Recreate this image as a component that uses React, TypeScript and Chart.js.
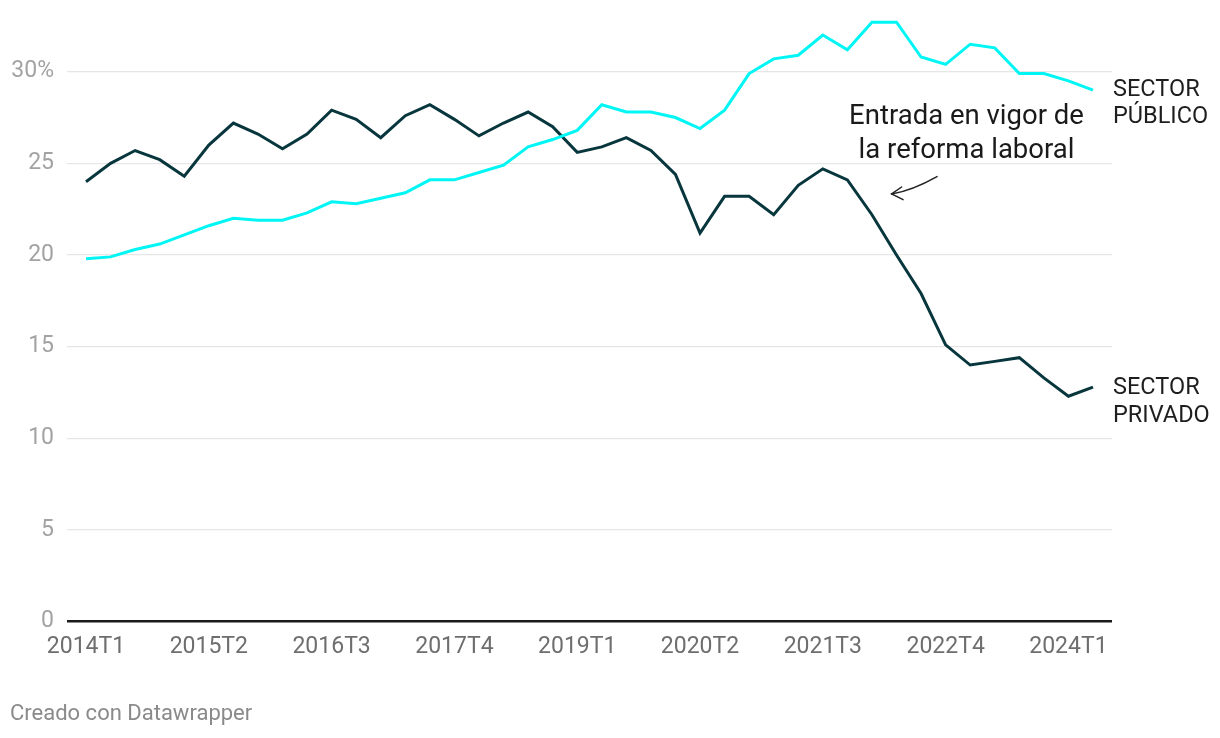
import React, { useEffect, useRef } from "react";
import { Chart, registerables } from "chart.js";

Chart.register(...registerables);

const quarterLabels = [
  "2014T1", "2014T2", "2014T3", "2014T4",
  "2015T1", "2015T2", "2015T3", "2015T4",
  "2016T1", "2016T2", "2016T3", "2016T4",
  "2017T1", "2017T2", "2017T3", "2017T4",
  "2018T1", "2018T2", "2018T3", "2018T4",
  "2019T1", "2019T2", "2019T3", "2019T4",
  "2020T1", "2020T2", "2020T3", "2020T4",
  "2021T1", "2021T2", "2021T3", "2021T4",
  "2022T1", "2022T2", "2022T3", "2022T4",
  "2023T1", "2023T2", "2023T3", "2023T4",
  "2024T1", "2024T2",
];

const sectorPublico = [
  19.8, 19.9, 20.3, 20.6, 21.1, 21.6, 22.0, 21.9, 21.9, 22.3,
  22.9, 22.8, 23.1, 23.4, 24.1, 24.1, 24.5, 24.9, 25.9, 26.3,
  26.8, 28.2, 27.8, 27.8, 27.5, 26.9, 27.9, 29.9, 30.7, 30.9,
  32.0, 31.2, 32.7, 32.7, 30.8, 30.4, 31.5, 31.3, 29.9, 29.9,
  29.5, 29.0,
];

const sectorPrivado = [
  24.0, 25.0, 25.7, 25.2, 24.3, 26.0, 27.2, 26.6, 25.8, 26.6,
  27.9, 27.4, 26.4, 27.6, 28.2, 27.4, 26.5, 27.2, 27.8, 27.0,
  25.6, 25.9, 26.4, 25.7, 24.4, 21.2, 23.2, 23.2, 22.2, 23.8,
  24.7, 24.1, 22.2, 20.0, 17.9, 15.1, 14.0, 14.2, 14.4, 13.3,
  12.3, 12.8,
];

const yTickValues = [0, 5, 10, 15, 20, 25, 30];
const xTickIndexes = [0, 5, 10, 15, 20, 25, 30, 35, 40];

const publicoLabel = ["SECTOR", "PÚBLICO"];
const privadoLabel = ["SECTOR", "PRIVADO"];
const annotationLines = ["Entrada en vigor de", "la reforma laboral"];
const creditText = "Creado con Datawrapper";

const COLOR_PUBLICO = "#00f5f5";
const COLOR_PRIVADO = "#08363d";
const FONT = "Roboto, 'Noto Sans', sans-serif";

const W = 1220;
const H = 738;
const ZERO_Y = 621.7;
const Y_MAX = 33;
const UNIT = 18.333;

const overlayPlugin = {
  id: "overlay",
  afterDatasetsDraw(chart: any) {
    const { ctx, scales, chartArea } = chart;
    const x = scales.x;
    const y = scales.y;
    const last = sectorPublico.length - 1;
    ctx.save();

    // series end labels
    ctx.font = `23.5px ${FONT}`;
    ctx.fillStyle = "#1e1e1e";
    ctx.textAlign = "left";
    ctx.textBaseline = "middle";
    const lx = chartArea.right + 1;
    const yp = y.getPixelForValue(sectorPublico[last]);
    ctx.fillText(publicoLabel[0], lx, yp);
    ctx.fillText(publicoLabel[1], lx, yp + 27.5);
    const yv = y.getPixelForValue(sectorPrivado[last]);
    ctx.fillText(privadoLabel[0], lx, yv + 1);
    ctx.fillText(privadoLabel[1], lx, yv + 29);

    // annotation text
    ctx.font = `27.5px ${FONT}`;
    ctx.fillStyle = "#1a1a1a";
    ctx.textAlign = "center";
    const ax = x.getPixelForValue(35.85);
    const ay = y.getPixelForValue(27.55);
    ctx.fillText(annotationLines[0], ax, ay);
    ctx.fillText(annotationLines[1], ax, ay + 34);

    // arrow
    const sx = x.getPixelForValue(34.65);
    const sy = y.getPixelForValue(24.28);
    const ex = x.getPixelForValue(32.8);
    const ey = y.getPixelForValue(23.33);
    ctx.strokeStyle = "#222";
    ctx.lineWidth = 1.5;
    ctx.lineCap = "round";
    ctx.beginPath();
    ctx.moveTo(sx, sy);
    ctx.quadraticCurveTo(sx - 25, sy + 14, ex, ey);
    ctx.stroke();
    ctx.beginPath();
    ctx.moveTo(ex + 10, ey - 7);
    ctx.lineTo(ex, ey);
    ctx.lineTo(ex + 11.5, ey + 5.7);
    ctx.stroke();

    // credit
    ctx.font = `22px ${FONT}`;
    ctx.fillStyle = "#8a8a8a";
    ctx.textAlign = "left";
    ctx.textBaseline = "middle";
    ctx.fillText(creditText, 10, 714);

    ctx.restore();
  },
};

export default function App() {
  const canvasRef = useRef<HTMLCanvasElement | null>(null);

  useEffect(() => {
    const canvas = canvasRef.current;
    if (!canvas) return;
    const chart = new Chart(canvas, {
      type: "line",
      data: {
        datasets: [
          {
            label: "Sector público",
            data: sectorPublico.map((v, i) => ({ x: i, y: v })),
            borderColor: COLOR_PUBLICO,
            borderWidth: 3,
            pointRadius: 0,
            tension: 0,
            clip: false as any,
          },
          {
            label: "Sector privado",
            data: sectorPrivado.map((v, i) => ({ x: i, y: v })),
            borderColor: COLOR_PRIVADO,
            borderWidth: 3,
            pointRadius: 0,
            tension: 0,
            clip: false as any,
          },
        ],
      },
      options: {
        responsive: false,
        devicePixelRatio: 1,
        animation: false,
        layout: { padding: { left: 0, right: 108, top: ZERO_Y - Y_MAX * UNIT, bottom: 0 } },
        plugins: {
          legend: { display: false },
          tooltip: { enabled: false },
        },
        scales: {
          x: {
            type: "linear",
            min: -0.774,
            max: 41.774,
            grid: { display: false, drawTicks: false },
            border: { display: false },
            afterBuildTicks: (scale: any) => {
              scale.ticks = xTickIndexes.map((v) => ({ value: v }));
            },
            afterFit: (scale: any) => {
              scale.height = H - ZERO_Y;
              scale.paddingLeft = 0;
              scale.paddingRight = 0;
            },
            ticks: {
              autoSkip: false,
              maxRotation: 0,
              padding: 12,
              color: "#6e6e6e",
              font: { family: FONT, size: 23 },
              callback: (v: any) => quarterLabels[Number(v)] ?? "",
            },
          },
          y: {
            type: "linear",
            min: 0,
            max: Y_MAX,
            border: { display: false },
            grid: {
              drawTicks: false,
              color: (c: any) => (c.tick && c.tick.value === 0 ? "#1a1a1a" : "#e6e6e6"),
              lineWidth: (c: any) => (c.tick && c.tick.value === 0 ? 2.5 : 1.3),
            },
            afterBuildTicks: (scale: any) => {
              scale.ticks = yTickValues.map((v) => ({ value: v }));
            },
            afterFit: (scale: any) => {
              scale.width = 67;
              scale.paddingTop = 0;
              scale.paddingBottom = 0;
            },
            ticks: {
              padding: 13,
              color: "#a3a3a3",
              font: { family: FONT, size: 23 },
              callback: (v: any) => (Number(v) === 30 ? "30%" : String(v)),
            },
          },
        },
      },
      plugins: [overlayPlugin],
    } as any);
    return () => chart.destroy();
  }, []);

  return (
    <div style={{ position: "fixed", left: 0, top: 0, width: W, height: H, background: "#fff" }}>
      <canvas ref={canvasRef} width={W} height={H} style={{ display: "block" }} />
    </div>
  );
}
